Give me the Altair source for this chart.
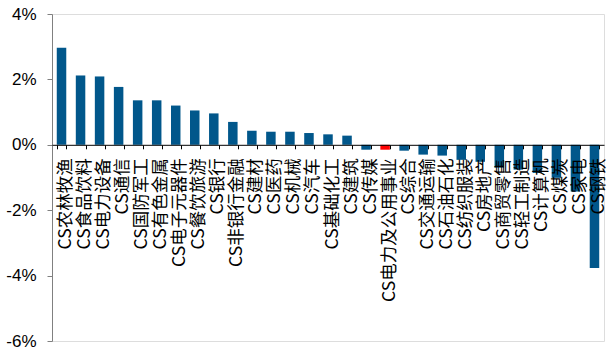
import altair as alt
import pandas as pd

categories = [
    "CS农林牧渔", "CS食品饮料", "CS电力设备", "CS通信", "CS国防军工", "CS有色金属",
    "CS电子元器件", "CS餐饮旅游", "CS银行", "CS非银行金融", "CS建材", "CS医药",
    "CS机械", "CS汽车", "CS基础化工", "CS建筑", "CS传媒", "CS电力及公用事业",
    "CS综合", "CS交通运输", "CS石油石化", "CS纺织服装", "CS房地产", "CS商贸零售",
    "CS轻工制造", "CS计算机", "CS煤炭", "CS家电", "CS钢铁",
]
values = [
    2.97, 2.12, 2.09, 1.77, 1.36, 1.36,
    1.20, 1.05, 0.96, 0.70, 0.43, 0.40,
    0.40, 0.36, 0.32, 0.28, -0.15, -0.15,
    -0.18, -0.30, -0.33, -0.46, -0.52, -0.70,
    -0.76, -0.86, -1.01, -1.43, -3.77,
]
highlight = "CS电力及公用事业"
y_ticks = [-6, -4, -2, 0, 2, 4]

df = pd.DataFrame({"category": categories, "value": values})

W, H = 552, 327
zero_from_top = H * 4 / 10

bars = alt.Chart(df).mark_bar(size=9.5).encode(
    x=alt.X(
        "category:N",
        sort=categories,
        scale=alt.Scale(paddingInner=0.48, paddingOuter=0.24),
        axis=alt.Axis(
            title=None,
            orient="bottom",
            offset=-(H - zero_from_top),
            labelAngle=-90,
            labelAlign="right",
            labelBaseline="middle",
            labelFont="Noto Sans CJK SC",
            labelFontSize=17.5,
            labelColor="#000000",
            labelPadding=9,
            labelOffset=4,
            labelLimit=300,
            labelOverlap=False,
            domainColor="#000000",
            domainWidth=1,
            tickColor="#000000",
            tickSize=4,
            tickBand="extent",
            zindex=1,
        ),
    ),
    y=alt.Y(
        "value:Q",
        scale=alt.Scale(domain=[-6, 4], nice=False, zero=False),
        axis=alt.Axis(
            title=None,
            values=y_ticks,
            labelExpr="datum.value + '%'",
            labelFont="Liberation Sans",
            labelFontSize=17,
            labelColor="#000000",
            labelPadding=11,
            domainColor="#808080",
            tickColor="#808080",
            tickSize=5,
            grid=False,
        ),
    ),
    color=alt.condition(
        alt.datum.category == highlight,
        alt.value("#FF0000"),
        alt.value("#01578B"),
    ),
)

chart = bars.properties(
    width=W,
    height=H,
    autosize=alt.AutoSizeParams(type="none"),
    padding={"left": 52, "top": 14, "right": 4, "bottom": 13},
).configure_view(stroke=None).configure(background="#FFFFFF")

chart.save("out.html", embed_options={"renderer": "svg", "actions": False})
